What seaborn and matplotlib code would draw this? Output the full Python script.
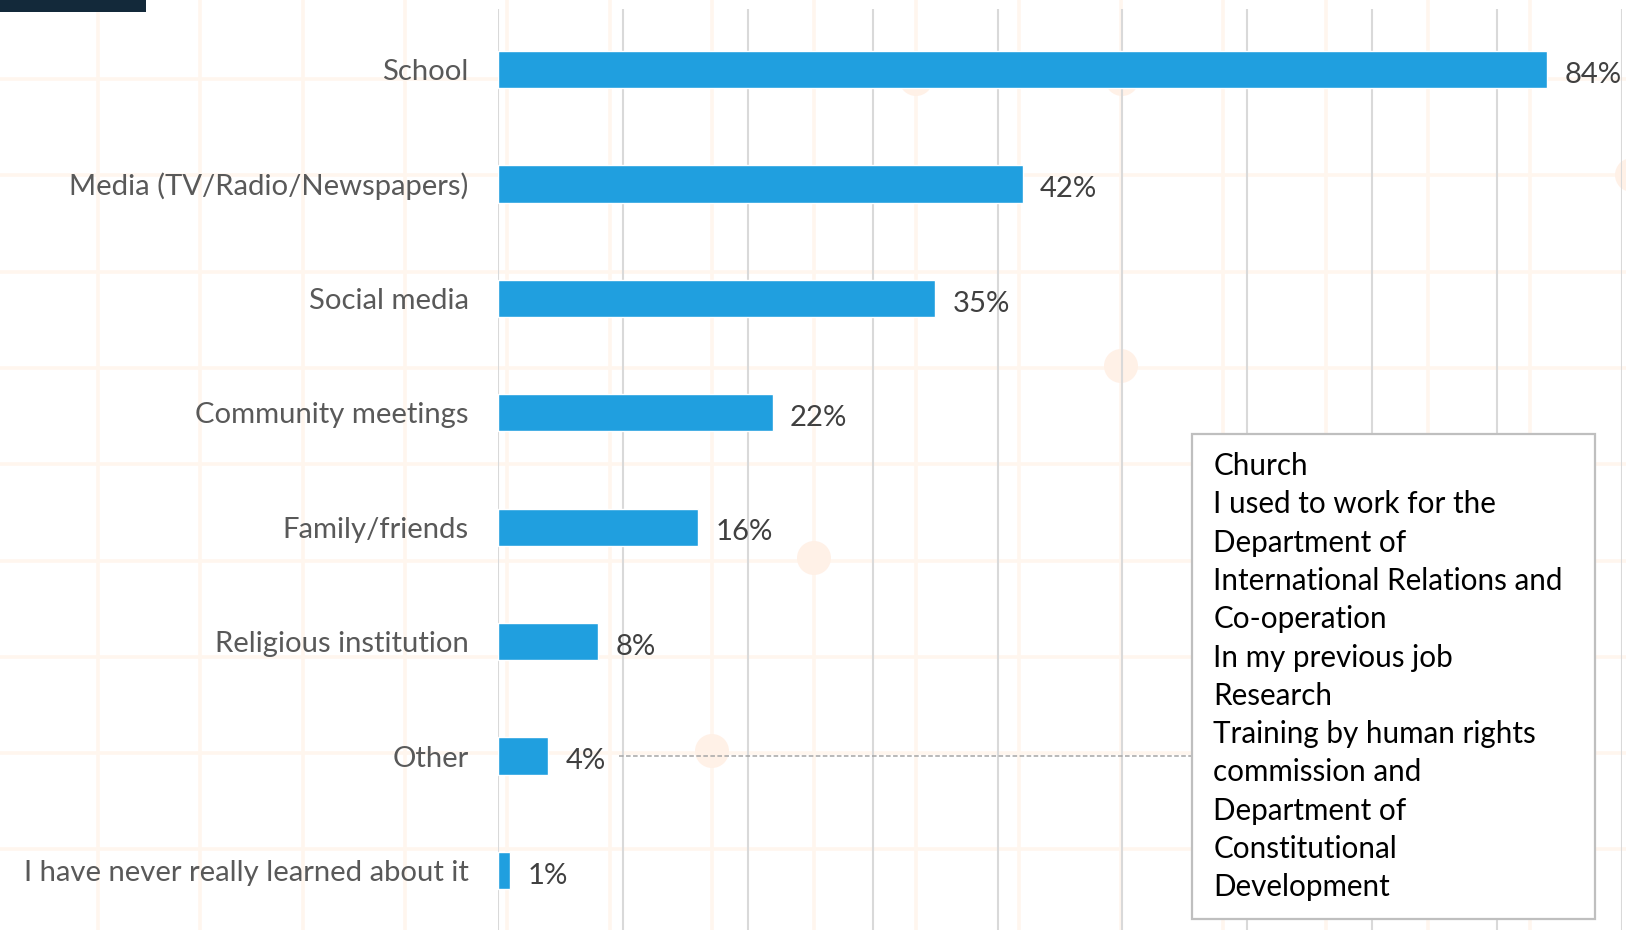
import matplotlib
matplotlib.use("Agg")
import matplotlib.pyplot as plt
import matplotlib.transforms as mtransforms
from matplotlib.patches import Rectangle, Circle
import pandas as pd
import seaborn as sns

# ---- data -------------------------------------------------------------
sources = [
    "School",
    "Media (TV/Radio/Newspapers)",
    "Social media",
    "Community meetings",
    "Family/friends",
    "Religious institution",
    "Other",
    "I have never really learned about it",
]
shares = [84, 42, 35, 22, 16, 8, 4, 1]
share_labels = [f"{v}%" for v in shares]
x_ticks = list(range(0, 100, 10))
other_responses = [
    "Church",
    "I used to work for the",
    "Department of",
    "International Relations and",
    "Co-operation",
    "In my previous job",
    "Research",
    "Training by human rights",
    "commission and",
    "Department of",
    "Constitutional",
    "Development",
]

# ---- style ------------------------------------------------------------
W, H = 1626, 930
BAR = "#209FDF"
sns.set_theme(style="white")
plt.rcParams["font.family"] = ["Lato", "DejaVu Sans"]

fig = plt.figure(figsize=(W / 100, H / 100), dpi=100)
fig.patch.set_facecolor("white")
renderer = fig.canvas.get_renderer()


def fit_size(text, target_px, base=20):
    t = fig.text(0, 0, text, fontsize=base)
    w = t.get_window_extent(renderer=renderer).width
    t.remove()
    return base * target_px / w


label_size = fit_size("Media (TV/Radio/Newspapers)", 399)
note_size = fit_size("International Relations and", 350)

# ---- faint slide backdrop (pixel space) -------------------------------
bg = fig.add_axes([0, 0, 1, 1], zorder=0)
bg.set_xlim(0, W)
bg.set_ylim(H, 0)
bg.axis("off")
for k in range(16):
    bg.axvline(98 + 102.3 * k, color="#fff6ee", lw=2.6, zorder=1)
for k in range(10):
    bg.axhline(79 + 96.3 * k, color="#fff6ee", lw=2.6, zorder=1)
for cx, cy in [(916, 79), (1122, 79), (1121, 366), (814, 558), (712, 751), (1632, 175)]:
    bg.add_patch(Circle((cx, cy), 17, facecolor="#fff1e7", lw=0, zorder=2))
bg.add_patch(Rectangle((0, 0), 146, 12, facecolor="#13293a", lw=0, zorder=5))

# ---- bar chart --------------------------------------------------------
ax = fig.add_axes([498 / W, 1 - 931 / H, 1124 / W, 922 / H], zorder=1)
ax.patch.set_alpha(0)

df = pd.DataFrame({"source": sources, "share": shares})
sns.barplot(data=df, x="share", y="source", orient="h", color=BAR,
            saturation=1, width=0.325, ax=ax, zorder=3)

ax.set_xlim(0, 90)
ax.set_xticks(x_ticks)
ax.set_axisbelow(True)
ax.xaxis.grid(True, color="#d9d9d9", lw=1.5)
ax.yaxis.grid(False)
ax.set_xlabel("")
ax.set_ylabel("")
ax.tick_params(axis="x", labelbottom=False, length=0)
ax.tick_params(axis="y", length=0, pad=21, labelsize=label_size, labelcolor="#595959")
for s in ax.spines.values():
    s.set_visible(False)

# value labels just right of each bar end
for i, (v, lbl) in enumerate(zip(shares, share_labels)):
    ax.annotate(lbl, xy=(v, i), xytext=(12.5, -9.5), textcoords="offset points",
                ha="left", va="baseline", fontsize=label_size, color="#404040")

# ---- callout for the "Other" answers ----------------------------------
row_tf = mtransforms.blended_transform_factory(ax.transAxes, ax.transData)
other_row = sources.index("Other")
ax.plot([0.1077, 0.6172], [other_row, other_row], transform=row_tf,
        color="#a6a6a6", lw=1.1, ls=(0, (3, 1.6)), zorder=2, clip_on=False)

ax.add_patch(Rectangle((0.6172, 0.013), 0.359, 0.526, transform=ax.transAxes,
                       facecolor="white", edgecolor="#bfbfbf", lw=1.6,
                       zorder=5, clip_on=False))
for i, line in enumerate(other_responses):
    baseline_px = 475 + 38.3 * i
    ax.text(0.6364, 1 - (baseline_px - 9) / 922, line, transform=ax.transAxes,
            ha="left", va="baseline", fontsize=note_size, color="black",
            zorder=6)

fig.savefig("out.png", dpi=100, facecolor="white")
